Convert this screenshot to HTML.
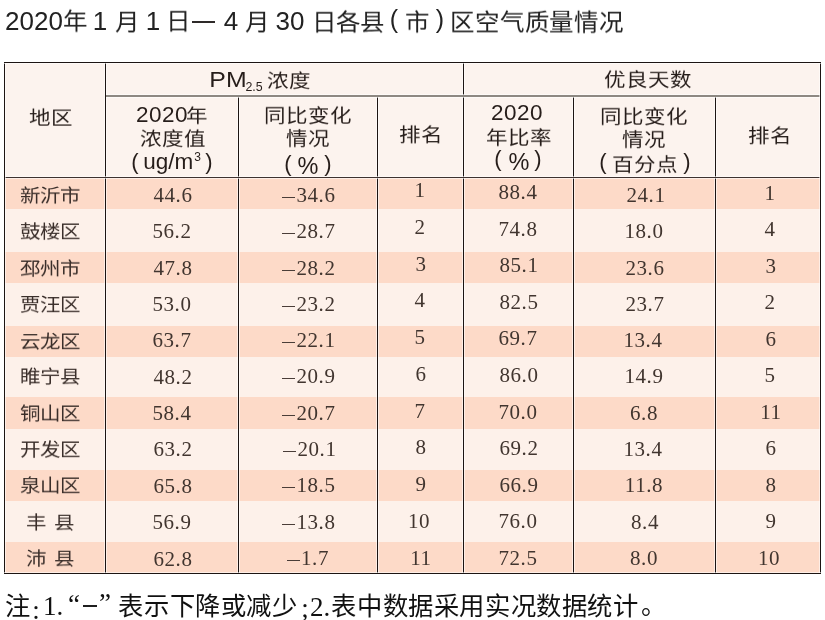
<!DOCTYPE html>
<html lang="zh-CN"><head><meta charset="utf-8"><title>2020年1月1日—4月30日各县（市）区空气质量情况</title>
<style>
*{margin:0;padding:0;box-sizing:border-box}
html,body{width:825px;height:620px;background:#fff;overflow:hidden}
body{position:relative;font-family:"Liberation Sans",sans-serif;color:#333}
.a{position:absolute}
.t{position:absolute;text-align:center;white-space:nowrap;width:400px;height:30px;line-height:30px;will-change:transform}
.td{font-size:26px;color:#222}
.tc{font-size:24.5px;color:#222;transform:scaleY(0.94);font-weight:500}
.ls1{letter-spacing:0.9px}
.ls2{letter-spacing:0px}
.tp{font-size:25px;color:#222}
.h{font-size:21.5px;color:#261d1a}
.hd{font-size:22.5px;letter-spacing:0.5px}
.hp{font-size:22px}
.hpc{font-size:23.5px}
.hu{font-size:22.5px}
.sy{transform:scaleY(0.85);font-weight:500}
.hpm{font-size:22.6px}
.sx{display:inline-block;transform:scaleX(1.1)}
.hsub{font-size:12.4px}
.sub{font-size:14px;position:relative;top:5px}
.sup{font-size:12px;position:relative;top:-8px;margin-left:1px}
.n{font-family:"Liberation Serif",serif;font-size:21px;letter-spacing:0.6px;color:#41352f}
.c{font-size:20.5px;color:#3a2e2a;font-weight:300;transform:scaleY(0.9)}
.mi{display:inline-block;width:12.6px;height:1.1px;background:#4a3d38;vertical-align:3.6px;margin-right:1.4px}
.fc{font-size:25.3px;letter-spacing:0.62px;color:#111;font-weight:300}
.fs{font-family:"Liberation Serif",serif;font-size:27px;color:#111}
</style></head><body>

<div class="a" style="left:191.5px;top:20.5px;width:23px;height:2px;background:#2e2a29"></div>
<div class="a" style="left:4px;top:62px;width:816px;height:116px;background:#fcf3ee"></div>
<div class="a" style="left:4px;top:178px;width:816px;height:31px;background:#fddac8"></div>
<div class="a" style="left:4px;top:209px;width:816px;height:43px;background:#fdf1ea"></div>
<div class="a" style="left:4px;top:252px;width:816px;height:31px;background:#fddac8"></div>
<div class="a" style="left:4px;top:283px;width:816px;height:43px;background:#fdf1ea"></div>
<div class="a" style="left:4px;top:326px;width:816px;height:31px;background:#fddac8"></div>
<div class="a" style="left:4px;top:357px;width:816px;height:40px;background:#fdf1ea"></div>
<div class="a" style="left:4px;top:397px;width:816px;height:32px;background:#fddac8"></div>
<div class="a" style="left:4px;top:429px;width:816px;height:41px;background:#fdf1ea"></div>
<div class="a" style="left:4px;top:470px;width:816px;height:31px;background:#fddac8"></div>
<div class="a" style="left:4px;top:501px;width:816px;height:41px;background:#fdf1ea"></div>
<div class="a" style="left:4px;top:542px;width:816px;height:31px;background:#fddac8"></div>
<div class="a" style="left:104px;top:63px;width:3px;height:510px;background:linear-gradient(90deg,rgba(255,255,255,.55) 0 1px,#1c1412 1px 2px,rgba(255,255,255,.55) 2px 3px)"></div>
<div class="a" style="left:237px;top:97px;width:3px;height:476px;background:linear-gradient(90deg,rgba(255,255,255,.55) 0 1px,#1c1412 1px 2px,rgba(255,255,255,.55) 2px 3px)"></div>
<div class="a" style="left:376px;top:97px;width:3px;height:476px;background:linear-gradient(90deg,rgba(255,255,255,.55) 0 1px,#1c1412 1px 2px,rgba(255,255,255,.55) 2px 3px)"></div>
<div class="a" style="left:462px;top:63px;width:3px;height:510px;background:linear-gradient(90deg,rgba(255,255,255,.55) 0 1px,#1c1412 1px 2px,rgba(255,255,255,.55) 2px 3px)"></div>
<div class="a" style="left:572px;top:97px;width:3px;height:476px;background:linear-gradient(90deg,rgba(255,255,255,.55) 0 1px,#1c1412 1px 2px,rgba(255,255,255,.55) 2px 3px)"></div>
<div class="a" style="left:714px;top:97px;width:3px;height:476px;background:linear-gradient(90deg,rgba(255,255,255,.55) 0 1px,#1c1412 1px 2px,rgba(255,255,255,.55) 2px 3px)"></div>
<div class="a" style="left:106px;top:94px;width:714px;height:4px;background:linear-gradient(180deg,rgba(255,255,255,.55) 0 1px,#8e8882 1px 3px,rgba(255,255,255,.55) 3px 4px)"></div>
<div class="a" style="left:5px;top:176px;width:815px;height:3px;background:linear-gradient(180deg,rgba(255,255,255,.55) 0 1px,#3e3230 1px 2px,rgba(255,255,255,.55) 2px 3px)"></div>
<div class="a" style="left:3px;top:62px;width:3px;height:512px;background:linear-gradient(90deg,rgba(255,255,255,.55) 0 1px,#1c1412 1px 2px,rgba(255,255,255,.55) 2px 3px)"></div>
<div class="a" style="left:819px;top:62px;width:3px;height:512px;background:linear-gradient(90deg,rgba(255,255,255,.55) 0 1px,#1c1412 1px 2px,rgba(255,255,255,.55) 2px 3px)"></div>
<div class="a" style="left:4px;top:61px;width:817px;height:3px;background:linear-gradient(180deg,rgba(255,255,255,.55) 0 1px,#1c1412 1px 2px,rgba(255,255,255,.55) 2px 3px)"></div>
<div class="a" style="left:4px;top:572px;width:817px;height:3px;background:linear-gradient(180deg,rgba(255,255,255,.55) 0 1px,#1c1412 1px 2px,rgba(255,255,255,.55) 2px 3px)"></div>
<div class="t td" style="left:-166.2px;top:6.2px">2020</div>
<div class="t tc" style="left:-125.4px;top:7.1px">年</div>
<div class="t td" style="left:-99.9px;top:6.2px">1</div>
<div class="t tc" style="left:-72.8px;top:7.6px">月</div>
<div class="t td" style="left:-46.8px;top:6.2px">1</div>
<div class="t tc" style="left:-21.7px;top:7.1px">日</div>
<div class="t td" style="left:31.4px;top:6.2px">4</div>
<div class="t tc" style="left:57.0px;top:7.6px">月</div>
<div class="t td" style="left:89.8px;top:6.2px">30</div>
<div class="t tc ls2" style="left:147.5px;top:8.1px">日各县</div>
<div class="t tp" style="left:194.0px;top:4.0px">(</div>
<div class="t tc" style="left:216.5px;top:7.5px">市</div>
<div class="t tp" style="left:240.0px;top:4.0px">)</div>
<div class="t tc ls1" style="left:336.6px;top:7.7px">区空气质量情况</div>
<div class="t fc" style="left:-181.8px;top:590.5px">注</div>
<div class="t fs" style="left:-163.9px;top:594.5px">:</div>
<div class="t fs" style="left:-147.5px;top:591.0px">1.</div>
<div class="t fs" style="left:-126.0px;top:588.5px">“</div>
<div class="t fs" style="left:-95.5px;top:588.0px">”</div>
<div class="t fc" style="left:7.5px;top:590.5px">表示下降或减少</div>
<div class="t fs" style="left:104.6px;top:593.0px">;</div>
<div class="t fs" style="left:120.1px;top:591.6px">2.</div>
<div class="t fc" style="left:285.4px;top:591.2px">表中数据采用实况数据统计</div>
<div class="t fc" style="left:453.5px;top:589.5px">。</div>
<div class="t h sy" style="left:-149.5px;top:102.5px">地区</div>
<div class="t h hpm" style="left:28.3px;top:65.3px"><span class="sx">PM</span></div>
<div class="t h hsub" style="left:54.2px;top:71.7px">2.5</div>
<div class="t h sy" style="left:89.1px;top:65.5px">浓度</div>
<div class="t h sy" style="left:447.5px;top:65.0px">优良天数</div>
<div class="t h hd" style="left:-38.5px;top:99.5px">2020</div>
<div class="t h sy" style="left:-3.5px;top:100.5px">年</div>
<div class="t h sy" style="left:-27.5px;top:124.0px">浓度值</div>
<div class="t h hp" style="left:-65.5px;top:146.5px">(</div>
<div class="t h hu" style="left:-28.5px;top:147.1px">ug/m<span class="sup">3</span></div>
<div class="t h hp" style="left:9.0px;top:146.5px">)</div>
<div class="t h sy" style="left:107.5px;top:100.5px">同比变化</div>
<div class="t h sy" style="left:108.0px;top:124.0px">情况</div>
<div class="t h hp" style="left:87.5px;top:148.5px">(</div>
<div class="t h hpc" style="left:108.0px;top:150.5px">%</div>
<div class="t h hp" style="left:127.5px;top:148.5px">)</div>
<div class="t h sy" style="left:220.5px;top:120.0px">排名</div>
<div class="t h hd" style="left:317.0px;top:98.0px">2020</div>
<div class="t h sy" style="left:318.5px;top:122.5px">年比率</div>
<div class="t h hp" style="left:298.4px;top:143.5px">(</div>
<div class="t h hpc" style="left:318.5px;top:146.5px">%</div>
<div class="t h hp" style="left:338.0px;top:143.5px">)</div>
<div class="t h sy" style="left:443.5px;top:101.5px">同比变化</div>
<div class="t h sy" style="left:444.0px;top:124.5px">情况</div>
<div class="t h hp" style="left:402.5px;top:146.5px">(</div>
<div class="t h sy" style="left:445.0px;top:149.5px">百分点</div>
<div class="t h hp" style="left:487.0px;top:146.5px">)</div>
<div class="t h sy" style="left:569.5px;top:121.0px">排名</div>
<div class="t c" style="left:-150.0px;top:181.0px">新沂市</div>
<div class="t n" style="left:-27.5px;top:180.0px">44.6</div>
<div class="t n" style="left:108.5px;top:180.0px"><span class="mi"></span>34.6</div>
<div class="t n" style="left:220.0px;top:175.0px">1</div>
<div class="t n" style="left:317.5px;top:177.0px">88.4</div>
<div class="t n" style="left:445.5px;top:180.0px">24.1</div>
<div class="t n" style="left:570.0px;top:178.0px">1</div>
<div class="t c" style="left:-150.0px;top:217.0px">鼓楼区</div>
<div class="t n" style="left:-28.0px;top:216.0px">56.2</div>
<div class="t n" style="left:109.0px;top:216.0px"><span class="mi"></span>28.7</div>
<div class="t n" style="left:220.0px;top:212.0px">2</div>
<div class="t n" style="left:317.5px;top:214.0px">74.8</div>
<div class="t n" style="left:443.5px;top:216.0px">18.0</div>
<div class="t n" style="left:570.0px;top:214.0px">4</div>
<div class="t c" style="left:-150.0px;top:254.0px">邳州市</div>
<div class="t n" style="left:-27.5px;top:253.0px">47.8</div>
<div class="t n" style="left:109.0px;top:253.0px"><span class="mi"></span>28.2</div>
<div class="t n" style="left:220.5px;top:249.0px">3</div>
<div class="t n" style="left:318.5px;top:250.0px">85.1</div>
<div class="t n" style="left:444.5px;top:253.0px">23.6</div>
<div class="t n" style="left:570.5px;top:251.0px">3</div>
<div class="t c" style="left:-150.0px;top:289.5px">贾汪区</div>
<div class="t n" style="left:-28.5px;top:289.0px">53.0</div>
<div class="t n" style="left:109.0px;top:289.0px"><span class="mi"></span>23.2</div>
<div class="t n" style="left:220.0px;top:285.0px">4</div>
<div class="t n" style="left:318.5px;top:287.0px">82.5</div>
<div class="t n" style="left:444.5px;top:289.0px">23.7</div>
<div class="t n" style="left:570.0px;top:287.0px">2</div>
<div class="t c" style="left:-150.0px;top:326.5px">云龙区</div>
<div class="t n" style="left:-28.0px;top:325.0px">63.7</div>
<div class="t n" style="left:109.0px;top:325.0px"><span class="mi"></span>22.1</div>
<div class="t n" style="left:220.0px;top:322.0px">5</div>
<div class="t n" style="left:318.0px;top:323.0px">69.7</div>
<div class="t n" style="left:443.0px;top:325.0px">13.4</div>
<div class="t n" style="left:570.5px;top:324.0px">6</div>
<div class="t c" style="left:-150.0px;top:361.5px">睢宁县</div>
<div class="t n" style="left:-27.5px;top:362.0px">48.2</div>
<div class="t n" style="left:109.0px;top:361.0px"><span class="mi"></span>20.9</div>
<div class="t n" style="left:220.5px;top:359.0px">6</div>
<div class="t n" style="left:318.5px;top:360.0px">86.0</div>
<div class="t n" style="left:443.5px;top:361.0px">14.9</div>
<div class="t n" style="left:570.0px;top:360.0px">5</div>
<div class="t c" style="left:-150.0px;top:399.0px">铜山区</div>
<div class="t n" style="left:-28.5px;top:398.0px">58.4</div>
<div class="t n" style="left:109.0px;top:398.0px"><span class="mi"></span>20.7</div>
<div class="t n" style="left:220.0px;top:396.0px">7</div>
<div class="t n" style="left:317.5px;top:397.0px">70.0</div>
<div class="t n" style="left:444.0px;top:398.0px">6.8</div>
<div class="t n" style="left:570.5px;top:397.0px">11</div>
<div class="t c" style="left:-150.0px;top:435.0px">开发区</div>
<div class="t n" style="left:-27.5px;top:434.0px">63.2</div>
<div class="t n" style="left:109.5px;top:434.0px"><span class="mi"></span>20.1</div>
<div class="t n" style="left:220.5px;top:432.0px">8</div>
<div class="t n" style="left:318.5px;top:433.0px">69.2</div>
<div class="t n" style="left:443.0px;top:434.0px">13.4</div>
<div class="t n" style="left:570.5px;top:433.0px">6</div>
<div class="t c" style="left:-150.0px;top:471.0px">泉山区</div>
<div class="t n" style="left:-27.5px;top:471.0px">65.8</div>
<div class="t n" style="left:109.0px;top:470.0px"><span class="mi"></span>18.5</div>
<div class="t n" style="left:220.5px;top:469.0px">9</div>
<div class="t n" style="left:318.5px;top:470.0px">66.9</div>
<div class="t n" style="left:444.0px;top:470.0px">11.8</div>
<div class="t n" style="left:570.5px;top:470.0px">8</div>
<div class="t c" style="left:-150.0px;top:507.5px">丰&#8201;&#8201;县</div>
<div class="t n" style="left:-28.5px;top:507.1px">56.9</div>
<div class="t n" style="left:109.0px;top:507.0px"><span class="mi"></span>13.8</div>
<div class="t n" style="left:219.0px;top:506.0px">10</div>
<div class="t n" style="left:317.5px;top:506.0px">76.0</div>
<div class="t n" style="left:444.5px;top:507.0px">8.4</div>
<div class="t n" style="left:570.5px;top:506.0px">9</div>
<div class="t c" style="left:-150.0px;top:544.0px">沛&#8201;&#8201;县</div>
<div class="t n" style="left:-27.5px;top:544.0px">62.8</div>
<div class="t n" style="left:108.0px;top:543.0px"><span class="mi"></span>1.7</div>
<div class="t n" style="left:220.5px;top:543.0px">11</div>
<div class="t n" style="left:317.5px;top:543.0px">72.5</div>
<div class="t n" style="left:444.0px;top:543.0px">8.0</div>
<div class="t n" style="left:569.0px;top:543.0px">10</div>
<div class="a" style="left:82.9px;top:604.9px;width:14px;height:2.1px;background:#1e1e1e"></div>
</body></html>
